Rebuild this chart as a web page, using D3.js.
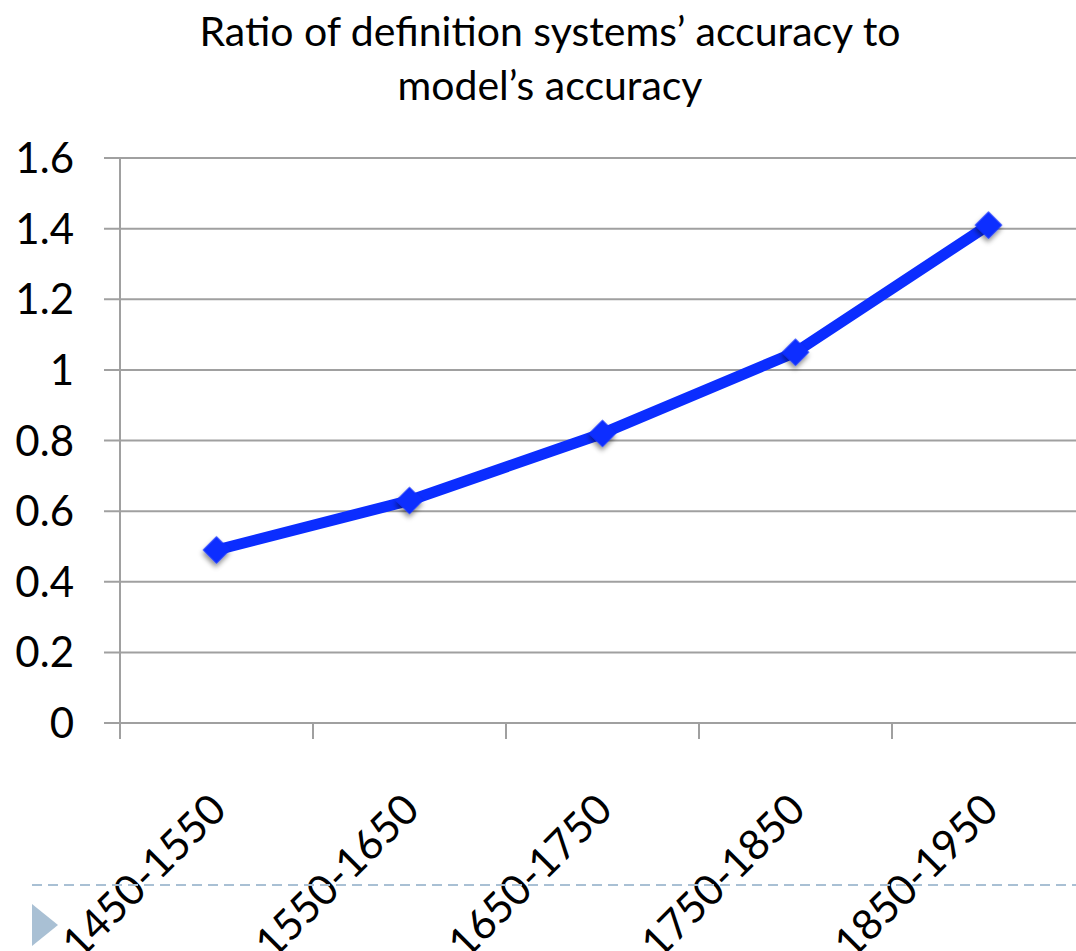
<!DOCTYPE html>
<meta charset="utf-8">
<style>
body { margin: 0; background: #fff; }
svg { display: block; }
text { font-family: "Lato", "Open Sans", sans-serif; fill: #000; }
.grid line { stroke: #a0a0a0; stroke-width: 2px; }
</style>
<body>
<script src="https://d3js.org/d3.v7.min.js"></script>
<script>
var periods = ["1450-1550", "1550-1650", "1650-1750", "1750-1850", "1850-1950"];
var ratios = [0.49, 0.63, 0.82, 1.05, 1.41];
var yTicks = [0, 0.2, 0.4, 0.6, 0.8, 1, 1.2, 1.4, 1.6];
var titleLines = ["Ratio of definition systems\u2019 accuracy to", "model\u2019s accuracy"];

var width = 1076, height = 951;
var plotLeft = 120, plotRight = 1085, plotTop = 158, plotBottom = 723;

var svg = d3.select("body").append("svg")
  .attr("width", width)
  .attr("height", height);

var defs = svg.append("defs");
var f = defs.append("filter").attr("id", "shadow")
  .attr("x", "-50%").attr("y", "-50%").attr("width", "200%").attr("height", "200%");
f.append("feDropShadow").attr("dx", 2).attr("dy", 3).attr("stdDeviation", 2.5)
  .attr("flood-color", "#000").attr("flood-opacity", 0.45);

var x = d3.scaleBand().domain(periods).range([plotLeft, plotRight]);
var y = d3.scaleLinear().domain([0, 1.6]).range([plotBottom, plotTop]);

// title
svg.append("g").selectAll("text")
  .data(titleLines)
  .enter().append("text")
    .attr("x", 550)
    .attr("y", function(d, i) { return 46 + i * 54; })
    .attr("text-anchor", "middle")
    .style("font-size", "41px")
    .text(function(d) { return d; });

// horizontal gridlines
svg.append("g").attr("class", "grid")
  .selectAll("line")
  .data(yTicks)
  .enter().append("line")
    .attr("x1", plotLeft - 16).attr("x2", width)
    .attr("y1", function(d) { return y(d); })
    .attr("y2", function(d) { return y(d); });

// y axis line + x tick marks
var grid = svg.select(".grid");
grid.append("line")
  .attr("x1", plotLeft).attr("x2", plotLeft)
  .attr("y1", plotTop).attr("y2", plotBottom + 16);
grid.selectAll(".xtick")
  .data(periods.slice(1))
  .enter().append("line")
    .attr("class", "xtick")
    .attr("x1", function(d) { return x(d); })
    .attr("x2", function(d) { return x(d); })
    .attr("y1", plotBottom).attr("y2", plotBottom + 16);

// y labels
svg.append("g").selectAll("text")
  .data(yTicks)
  .enter().append("text")
    .attr("x", 74)
    .attr("y", function(d) { return y(d) + 15; })
    .attr("text-anchor", "end")
    .style("font-size", "42px")
    .text(function(d) { return d3.format("")(d); });

// x labels
svg.append("g").selectAll("text")
  .data(periods)
  .enter().append("text")
    .attr("text-anchor", "end")
    .attr("transform", function(d) {
      return "translate(" + (x(d) + x.bandwidth() / 2 + 12) + "," + 812 + ") rotate(-45)";
    })
    .style("font-size", "42px")
    .text(function(d) { return d; });

// series line
var line = d3.line()
  .x(function(d, i) { return x(periods[i]) + x.bandwidth() / 2; })
  .y(function(d) { return y(d); });

svg.append("path")
  .datum(ratios)
  .attr("fill", "none")
  .attr("stroke", "#0b2dff")
  .attr("stroke-width", 11)
  .attr("stroke-linejoin", "round")
  .attr("d", line);

svg.append("g").selectAll("path")
  .data(ratios)
  .enter().append("path")
    .attr("d", d3.symbol().type(d3.symbolSquare).size(380))
    .attr("fill", "#0b2dff")
    .attr("filter", "url(#shadow)")
    .attr("transform", function(d, i) {
      return "translate(" + (x(periods[i]) + x.bandwidth() / 2) + "," + y(d) + ") rotate(45)";
    });

// slide decoration: dashed rule and bullet triangle
svg.append("line")
  .attr("x1", 32).attr("x2", width)
  .attr("y1", 885).attr("y2", 885)
  .attr("stroke", "#a9c0d4")
  .attr("stroke-width", 2)
  .attr("stroke-dasharray", "10,6");

svg.append("path")
  .attr("d", "M32,904L58,925L32,946Z")
  .attr("fill", "#a9c0d4");
</script>
</body>
